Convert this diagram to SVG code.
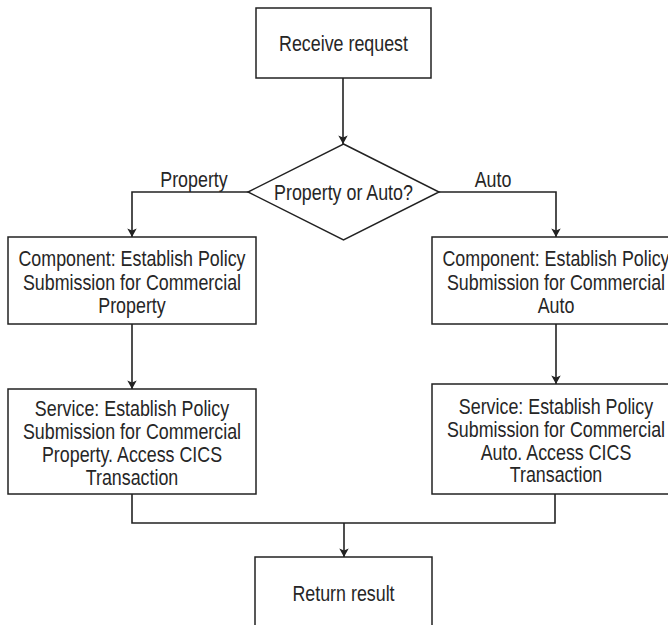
<svg xmlns="http://www.w3.org/2000/svg" width="668" height="625" viewBox="0 0 668 625">
  <style>
    .box { fill: #fff; stroke: #222; stroke-width: 1.5; }
    .wire { fill: none; stroke: #222; stroke-width: 1.6; }
    /* condensed sans: regular face squeezed horizontally */
    text { font-family: "Liberation Sans", Arial, sans-serif; font-size: 21.5px; fill: #262626; text-anchor: middle; dominant-baseline: central; }
  </style>
  <defs>
    <marker id="arrow" viewBox="0 0 10 14" refX="10" refY="7" markerWidth="11" markerHeight="12" markerUnits="userSpaceOnUse" orient="auto">
      <path d="M0,1.5 L10,7 L0,12.5 L2.5,7 Z" fill="#222"/>
    </marker>
  </defs>
  <rect width="668" height="625" fill="#fff"/>

  <!-- connectors -->
  <g id="connectors">
    <path class="wire" d="M343,78 V144" marker-end="url(#arrow)"/>
    <path class="wire" d="M248,192 H132 V237" marker-end="url(#arrow)"/>
    <path class="wire" d="M439,192 H556 V237" marker-end="url(#arrow)"/>
    <path class="wire" d="M132,324 V389" marker-end="url(#arrow)"/>
    <path class="wire" d="M556,324 V384" marker-end="url(#arrow)"/>
    <path class="wire" d="M132,494 V523 H555 V494"/>
    <path class="wire" d="M344,523 V557" marker-end="url(#arrow)"/>
    <text transform="translate(194 179) scale(0.83 1)">Property</text>
    <text transform="translate(493 179) scale(0.83 1)">Auto</text>
  </g>

  <g id="receive">
    <rect class="box" x="256" y="8" width="175" height="70"/>
    <text transform="translate(343.5 43) scale(0.83 1)">Receive request</text>
  </g>

  <g id="decision">
    <polygon class="box" points="343.5,144 439,192 343.5,240 248,192"/>
    <text transform="translate(343.5 192) scale(0.83 1)">Property or Auto?</text>
  </g>

  <g id="component-property">
    <rect class="box" x="8" y="237" width="248" height="87"/>
    <text transform="translate(132 258) scale(0.83 1)">Component: Establish Policy</text>
    <text transform="translate(132 282) scale(0.83 1)">Submission for Commercial</text>
    <text transform="translate(132 305) scale(0.83 1)">Property</text>
  </g>

  <g id="component-auto">
    <rect class="box" x="432" y="237" width="248" height="87"/>
    <text transform="translate(556 258) scale(0.83 1)">Component: Establish Policy</text>
    <text transform="translate(556 282) scale(0.83 1)">Submission for Commercial</text>
    <text transform="translate(556 305) scale(0.83 1)">Auto</text>
  </g>

  <g id="service-property">
    <rect class="box" x="8" y="389" width="248" height="105"/>
    <text transform="translate(132 408) scale(0.83 1)">Service: Establish Policy</text>
    <text transform="translate(132 431) scale(0.83 1)">Submission for Commercial</text>
    <text transform="translate(132 454) scale(0.83 1)">Property. Access CICS</text>
    <text transform="translate(132 477) scale(0.83 1)">Transaction</text>
  </g>

  <g id="service-auto">
    <rect class="box" x="432" y="384" width="248" height="110"/>
    <text transform="translate(556 406) scale(0.83 1)">Service: Establish Policy</text>
    <text transform="translate(556 429) scale(0.83 1)">Submission for Commercial</text>
    <text transform="translate(556 452) scale(0.83 1)">Auto. Access CICS</text>
    <text transform="translate(556 474) scale(0.83 1)">Transaction</text>
  </g>

  <g id="return">
    <rect class="box" x="255" y="557" width="177" height="80"/>
    <text transform="translate(343.5 593) scale(0.83 1)">Return result</text>
  </g>
</svg>
